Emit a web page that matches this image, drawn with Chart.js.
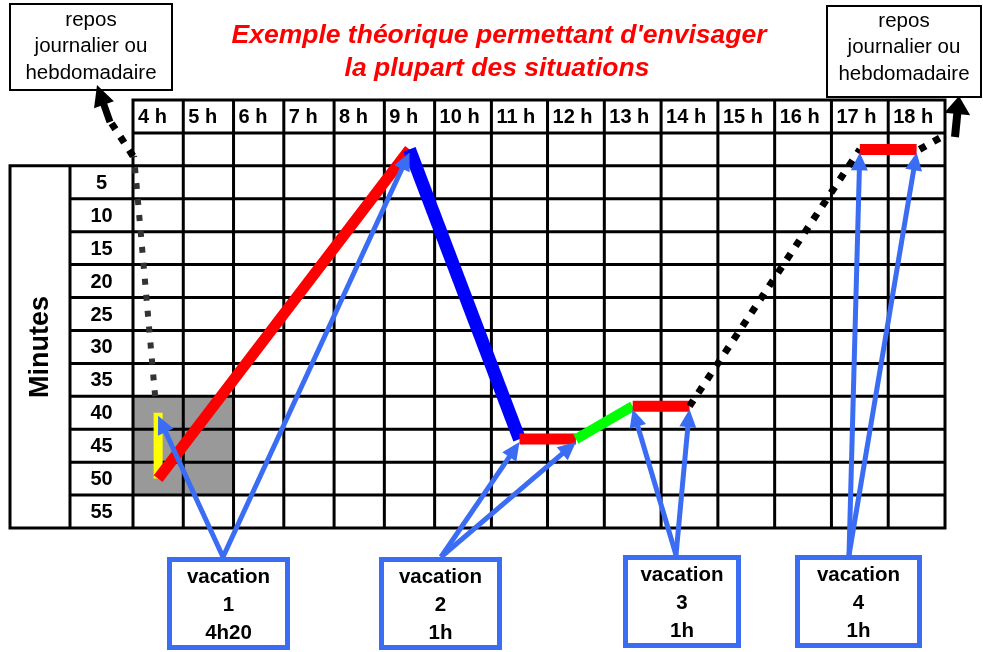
<!DOCTYPE html>
<html>
<head>
<meta charset="utf-8">
<script src="https://cdn.jsdelivr.net/npm/chart.js@4.4.1/dist/chart.umd.min.js"></script>
<style>
  html, body { margin: 0; padding: 0; background: #ffffff; }
  #wrap { width: 983px; height: 652px; position: relative; background: #ffffff; }
  canvas { display: block; }
</style>
</head>
<body>
<div id="wrap"><canvas id="c" width="983" height="652"></canvas></div>
<script>
// ---------- data ----------
const hours = [4, 5, 6, 7, 8, 9, 10, 11, 12, 13, 14, 15, 16, 17, 18];
const hourLabels = ['4 h', '5 h', '6 h', '7 h', '8 h', '9 h', '10 h', '11 h', '12 h', '13 h', '14 h', '15 h', '16 h', '17 h', '18 h'];
const minutes = [5, 10, 15, 20, 25, 30, 35, 40, 45, 50, 55];
const minuteLabels = ['5', '10', '15', '20', '25', '30', '35', '40', '45', '50', '55'];
const headerRow = -5;   // row holding the hour labels
const zeroRow = 0;      // empty row (minute 0)

// path of the day : hour column, minute row
const pathHours   = [4, 4, 9, 11, 12, 13, 14, 17, 18];
const pathMinutes = [40, 50, 0, 44, 44, 39, 39, 0, 0];
const segmentKinds = ['préparation', 'vacation', 'coupure', 'vacation', 'pause', 'vacation', 'repos', 'vacation'];

// vacations (boxes) and the path points they point at
const vacationNumbers = ['1', '2', '3', '4'];
const vacationDurations = ['4h20', '1h', '1h', '1h'];
const vacationTargets = [[0, 2], [3, 4], [5, 6], [7, 8]];

// shaded cells
const shadedHours = [4, 5];
const shadedMinutes = [40, 45, 50];

const titleLines = ["Exemple théorique permettant d'envisager", 'la plupart des situations'];
const reposLines = ['repos', 'journalier ou', 'hebdomadaire'];
const axisTitle = 'Minutes';

// ---------- styles ----------
const FONT = '"Liberation Sans", Arial, Helvetica, sans-serif';
const HOUR_FONT = 'bold 20px ' + FONT;
const COLUMN_PAD = 57;   // table cell padding used to size each hour column from its label
const KIND_STYLE = {
  'préparation': { color: '#ffff00', width: 9,  dash: [] },
  'vacation':    { color: '#ff0000', width: 11, dash: [] },
  'coupure':     { color: '#0000ff', width: 13, dash: [] },
  'pause':       { color: '#00ff00', width: 10, dash: [] },
  'repos':       { color: '#000000', width: 7,  dash: [7, 9] }
};
const BLUE = '#3a6cf4';

// ---------- layout (pixels, not data) ----------
const tableLeft = 10, labelColLeft = 70;
const vacBoxes = [
  { l: 167, r: 290, t: 557, b: 650, tail: 223 },
  { l: 379, r: 502, t: 557, b: 650, tail: 441 },
  { l: 623, r: 741, t: 555, b: 648, tail: 676 },
  { l: 795, r: 922, t: 555, b: 648, tail: 849 }
];
const vacTextY = [577, 605, 633];

// ---------- hour-column scale: table columns sized from their labels ----------
let _edges = null;
function columnEdges() {
  if (_edges) return _edges;
  const c = document.createElement('canvas').getContext('2d');
  c.font = HOUR_FONT;
  _edges = [0];
  hourLabels.forEach(l => _edges.push(_edges[_edges.length - 1] + c.measureText(l).width + COLUMN_PAD));
  return _edges;
}
class HourColumnScale extends Chart.LinearScale {
  getPixelForValue(value) {
    if (value === null || value === undefined || isNaN(value)) return NaN;
    const e = columnEdges(), n = e.length - 1;
    const u = value - this.min;
    let k = Math.floor(u);
    if (k < 0) k = 0;
    if (k > n - 1) k = n - 1;
    const frac = u - k;
    return this.getPixelForDecimal((e[k] + frac * (e[k + 1] - e[k])) / e[n]);
  }
  getValueForPixel(pixel) {
    const e = columnEdges(), n = e.length - 1;
    const d = this.getDecimalForPixel(pixel) * e[n];
    let k = 0;
    while (k < n - 1 && d > e[k + 1]) k++;
    return this.min + k + (d - e[k]) / (e[k + 1] - e[k]);
  }
}
HourColumnScale.id = 'hourColumns';
HourColumnScale.defaults = Chart.LinearScale.defaults;
Chart.register(HourColumnScale);

function drawArrow(ctx, x0, y0, x1, y1, color, w, hl, hw) {
  const a = Math.atan2(y1 - y0, x1 - x0);
  const bx = x1 - hl * Math.cos(a), by = y1 - hl * Math.sin(a);
  ctx.save();
  ctx.strokeStyle = color; ctx.fillStyle = color;
  ctx.lineWidth = w; ctx.lineCap = 'butt'; ctx.setLineDash([]);
  ctx.beginPath(); ctx.moveTo(x0, y0); ctx.lineTo(bx + Math.cos(a), by + Math.sin(a)); ctx.stroke();
  ctx.beginPath();
  ctx.moveTo(x1, y1);
  ctx.lineTo(bx + hw / 2 * Math.sin(a), by - hw / 2 * Math.cos(a));
  ctx.lineTo(bx - hw / 2 * Math.sin(a), by + hw / 2 * Math.cos(a));
  ctx.closePath(); ctx.fill();
  ctx.restore();
}

function dotted(ctx, pts, color, w, dash) {
  ctx.save();
  ctx.strokeStyle = color; ctx.lineWidth = w; ctx.lineCap = 'butt';
  ctx.setLineDash(dash);
  ctx.beginPath(); ctx.moveTo(pts[0][0], pts[0][1]);
  for (let i = 1; i < pts.length; i++) ctx.lineTo(pts[i][0], pts[i][1]);
  ctx.stroke();
  ctx.restore();
}

const gridPlugin = {
  id: 'timeGrid',
  beforeDatasetsDraw(chart) {
    const ctx = chart.ctx, xs = chart.scales.x, ys = chart.scales.y;
    const X = v => xs.getPixelForValue(v), Y = v => ys.getPixelForValue(v);
    const rows = [headerRow, zeroRow].concat(minutes);
    const half = 2.5;
    const top = Y(headerRow - half), bot = Y(minutes[minutes.length - 1] + half);
    const left = X(hours[0] - 0.5), right = X(hours[hours.length - 1] + 0.5);
    ctx.save();
    // shaded cells
    ctx.fillStyle = '#999999';
    shadedHours.forEach(h => shadedMinutes.forEach(m => {
      ctx.fillRect(X(h - 0.5), Y(m - half), X(h + 0.5) - X(h - 0.5), Y(m + half) - Y(m - half));
    }));
    // grid
    ctx.strokeStyle = '#000000'; ctx.lineWidth = 3; ctx.lineCap = 'square';
    ctx.beginPath();
    hours.forEach(h => { const x = X(h - 0.5); ctx.moveTo(x, top); ctx.lineTo(x, bot); });
    ctx.moveTo(right, top); ctx.lineTo(right, bot);
    rows.forEach(m => { const y = Y(m - half); ctx.moveTo(left, y); ctx.lineTo(right, y); });
    ctx.moveTo(left, bot); ctx.lineTo(right, bot);
    // left minutes table
    const tTop = Y(minutes[0] - half);
    ctx.moveTo(tableLeft, tTop); ctx.lineTo(left, tTop);
    minutes.forEach(m => { const y = Y(m + half); ctx.moveTo(labelColLeft, y); ctx.lineTo(left, y); });
    ctx.moveTo(tableLeft, bot); ctx.lineTo(left, bot);
    ctx.moveTo(tableLeft, tTop); ctx.lineTo(tableLeft, bot);
    ctx.moveTo(labelColLeft, tTop); ctx.lineTo(labelColLeft, bot);
    ctx.stroke();

    // hour labels
    ctx.fillStyle = '#000000';
    ctx.font = HOUR_FONT;
    ctx.textAlign = 'left'; ctx.textBaseline = 'middle';
    hours.forEach((h, i) => ctx.fillText(hourLabels[i], X(h - 0.5) + 5, Y(headerRow) + 1));
    // minute labels
    ctx.textAlign = 'center';
    minutes.forEach((m, i) => ctx.fillText(minuteLabels[i], (labelColLeft + left) / 2, Y(m) + 1));
    // axis title
    ctx.save();
    ctx.translate((tableLeft + labelColLeft) / 2 + 1, (tTop + bot) / 2);
    ctx.rotate(-Math.PI / 2);
    ctx.font = 'bold 27px ' + FONT;
    ctx.fillText(axisTitle, 0, 0);
    ctx.restore();

    // title
    ctx.fillStyle = '#ff0000';
    ctx.font = 'italic bold 26.5px ' + FONT;
    ctx.textAlign = 'center';
    ctx.fillText(titleLines[0], 499, 36);
    ctx.fillText(titleLines[1], 497, 69);

    // repos boxes
    ctx.strokeStyle = '#000000'; ctx.lineWidth = 2; ctx.fillStyle = '#ffffff';
    [[10, 4, 172, 90], [827, 6, 981, 97]].forEach(b => {
      ctx.fillRect(b[0], b[1], b[2] - b[0], b[3] - b[1]);
      ctx.strokeRect(b[0], b[1], b[2] - b[0], b[3] - b[1]);
    });
    ctx.fillStyle = '#000000';
    ctx.font = '20.5px ' + FONT;
    reposLines.forEach((t, i) => {
      ctx.fillText(t, 91, 20 + i * 26.5);
      ctx.fillText(t, 904, 21 + i * 26.5);
    });
    ctx.restore();
  },
  afterDatasetsDraw(chart) {
    const ctx = chart.ctx, xs = chart.scales.x, ys = chart.scales.y;
    const X = v => xs.getPixelForValue(v), Y = v => ys.getPixelForValue(v);
    const px = i => [X(pathHours[i]), Y(pathMinutes[i])];
    // rest before the first vacation (from the daily/weekly rest box)
    const p0 = px(0);
    dotted(ctx, [[p0[0] - 3, Y(pathMinutes[0] - 2.5)], [X(hours[0] - 0.5) + 1, Y(zeroRow + 1)]], '#333333', 6, [6, 10]);
    dotted(ctx, [[X(hours[0] - 0.5), Y(zeroRow + 1)], [110, 121]], '#000000', 7, [7, 9]);
    drawArrow(ctx, 110, 122, 97, 85, '#000000', 7, 21, 21);
    // rest after the last vacation
    const pl = px(pathHours.length - 1);
    dotted(ctx, [[pl[0] + 3, pl[1]], [947, 134]], '#000000', 7, [7, 9]);
    drawArrow(ctx, 955, 137, 959, 96, '#000000', 8, 18, 26);

    // blue arrows from vacation boxes
    vacationTargets.forEach((pair, k) => {
      const b = vacBoxes[k];
      pair.forEach(i => {
        const p = px(i);
        drawArrow(ctx, b.tail, b.t, p[0], p[1] + 3, BLUE, 5, 18, 17);
      });
    });
    // vacation boxes
    ctx.save();
    vacBoxes.forEach((b, k) => {
      ctx.fillStyle = '#ffffff';
      ctx.fillRect(b.l, b.t, b.r - b.l, b.b - b.t);
      ctx.strokeStyle = BLUE; ctx.lineWidth = 5;
      ctx.strokeRect(b.l + 2.5, b.t + 2.5, b.r - b.l - 5, b.b - b.t - 5);
      ctx.fillStyle = '#000000';
      ctx.font = 'bold 20.5px ' + FONT;
      ctx.textAlign = 'center'; ctx.textBaseline = 'middle';
      const cx = (b.l + b.r) / 2;
      const off = b.t - 557;
      ctx.fillText('vacation', cx, vacTextY[0] + off);
      ctx.fillText(vacationNumbers[k], cx, vacTextY[1] + off);
      ctx.fillText(vacationDurations[k], cx, vacTextY[2] + off);
    });
    ctx.restore();
  }
};

const styleOf = i => KIND_STYLE[segmentKinds[i]];

new Chart(document.getElementById('c'), {
  type: 'line',
  data: {
    datasets: [{
      label: 'Journée',
      data: pathHours.map((h, i) => ({ x: h, y: pathMinutes[i] })),
      borderColor: '#ff0000',
      borderWidth: 11,
      borderCapStyle: 'butt',
      borderJoinStyle: 'miter',
      pointRadius: 0,
      pointHoverRadius: 0,
      tension: 0,
      fill: false,
      clip: false,
      segment: {
        borderColor: c => styleOf(c.p0DataIndex).color,
        borderWidth: c => styleOf(c.p0DataIndex).width,
        borderDash: c => styleOf(c.p0DataIndex).dash
      }
    }]
  },
  options: {
    responsive: false,
    animation: false,
    devicePixelRatio: 1,
    events: [],
    layout: { padding: { left: 133, right: 38, top: 100, bottom: 124 } },
    plugins: { legend: { display: false }, tooltip: { enabled: false }, title: { display: false } },
    scales: {
      x: { type: 'hourColumns', min: 3.5, max: 18.5, display: false },
      y: { type: 'linear', min: -7.5, max: 57.5, reverse: true, display: false }
    }
  },
  plugins: [gridPlugin]
});
</script>
</body>
</html>
